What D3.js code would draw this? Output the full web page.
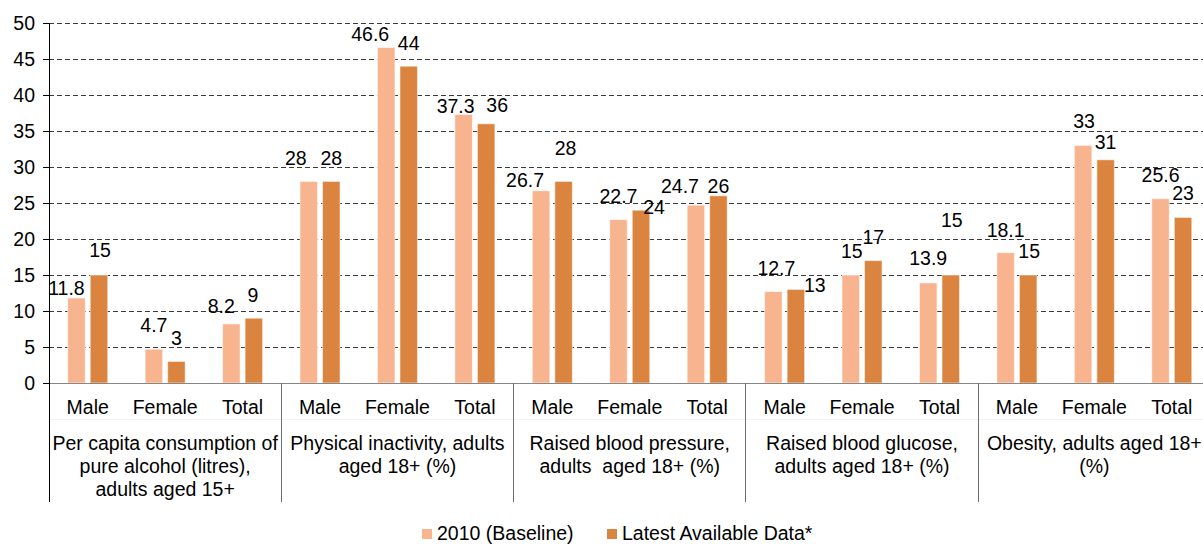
<!DOCTYPE html>
<html>
<head>
<meta charset="utf-8">
<script src="https://cdn.jsdelivr.net/npm/d3@7"></script>
<style>
  body { margin: 0; background: #fff; }
  svg { display: block; font-family: "Liberation Sans", Arial, sans-serif; }
  text { fill: #000; white-space: pre; }
</style>
</head>
<body>
<div id="chart"></div>
<script>
// ---- data ----
const sexes = ['Male', 'Female', 'Total'];
const groupLabels = [
  ['Per capita consumption of', 'pure alcohol (litres),', 'adults aged 15+'],
  ['Physical inactivity, adults', 'aged 18+ (%)'],
  ['Raised blood pressure,', 'adults  aged 18+ (%)'],
  ['Raised blood glucose,', 'adults aged 18+ (%)'],
  ['Obesity, adults aged 18+', '(%)'],
];
const seriesNames = ['2010 (Baseline)', 'Latest Available Data*'];
const baselineVals = [11.8, 4.7, 8.2, 28, 46.6, 37.3, 26.7, 22.7, 24.7, 12.7, 15, 13.9, 18.1, 33, 25.6];
const latestVals = [15, 3, 9, 28, 44, 36, 28, 24, 26, 13, 17, 15, 15, 31, 23];
const yTicks = [0, 5, 10, 15, 20, 25, 30, 35, 40, 45, 50];

// hand-placed data labels (offsets from the default spot above each bar)
const baselineNudge = [[-10, 14], [0, 0], [-10, 6], [-13, 1], [-16, 11], [-8, 16], [-16, 13], [0, 0], [-16, 5],
  [3, 0], [1, 0], [0, -1], [0, 1], [1, 0], [0, 0]];
const latestNudge = [[1, -1], [0, 1], [-1, 1], [0, 1], [0, 1], [11, 5], [2, -9], [13, 21], [0, 14],
  [19, 20], [0, 0], [1, -31], [1, 0], [0, 6], [0, 0]];

const COLORS = ['#F8B48E', '#DB843F'];
const W = 1203, H = 544;
const FS = 19.5;

const svg = d3.select('#chart').append('svg').attr('width', W).attr('height', H);

const cats = d3.range(baselineVals.length);
const x = d3.scaleBand().domain(cats).range([49, 1210.5]).padding(0);
const xs = d3.scaleBand().domain([0, 1]).range([0, x.bandwidth()])
  .paddingInner(0.222).paddingOuter(0.83);
const y = d3.scaleLinear().domain([0, 50]).range([383, 23]);

// gridlines
svg.append('g').selectAll('line').data(yTicks.filter(d => d > 0)).join('line')
  .attr('x1', 49).attr('x2', W).attr('y1', d => y(d)).attr('y2', d => y(d))
  .attr('stroke', '#3a3a3a').attr('stroke-width', 1).attr('stroke-dasharray', '5 3')
  .attr('shape-rendering', 'crispEdges');

// y axis
const yAxis = svg.append('g').attr('transform', 'translate(49,0)')
  .call(d3.axisLeft(y).tickValues(yTicks).tickSize(6).tickPadding(8));
yAxis.select('.domain').remove();
yAxis.selectAll('.tick line').attr('stroke', '#000').attr('shape-rendering', 'crispEdges');
yAxis.selectAll('.tick text').attr('font-size', FS).attr('font-family', '"Liberation Sans", Arial, sans-serif')
  .attr('fill', '#000');

// bars
const series = [baselineVals, latestVals];
series.forEach((vals, s) => {
  svg.append('g').selectAll('rect').data(vals).join('rect')
    .attr('x', (d, i) => x(i) + xs(s))
    .attr('width', xs.bandwidth())
    .attr('y', d => y(d))
    .attr('height', d => y(0) - y(d))
    .attr('fill', COLORS[s])
    .attr('stroke', 'rgba(255,255,255,0.55)').attr('stroke-width', 1);
});

// data labels
const nudges = [baselineNudge, latestNudge];
series.forEach((vals, s) => {
  svg.append('g').selectAll('text').data(vals).join('text')
    .attr('x', (d, i) => x(i) + xs(s) + xs.bandwidth() / 2 + nudges[s][i][0])
    .attr('y', (d, i) => y(d) - 17 + nudges[s][i][1])
    .attr('text-anchor', 'middle').attr('font-size', FS)
    .text(d => d);
});

// zero line + category axis frame
svg.append('line').attr('x1', 49).attr('x2', W).attr('y1', y(0)).attr('y2', y(0))
  .attr('stroke', '#868686').attr('shape-rendering', 'crispEdges');
svg.append('line').attr('x1', 49).attr('x2', W).attr('y1', 419).attr('y2', 419)
  .attr('stroke', '#f2f2f2').attr('shape-rendering', 'crispEdges');

const groupStarts = d3.range(groupLabels.length).map(g => x(g * 3));
svg.append('g').selectAll('line').data(groupStarts.slice(1)).join('line')
  .attr('x1', d => d).attr('x2', d => d).attr('y1', y(0)).attr('y2', 502)
  .attr('stroke', '#6e6e6e').attr('shape-rendering', 'crispEdges');
svg.append('line').attr('x1', 49).attr('x2', 49).attr('y1', y(50)).attr('y2', 502)
  .attr('stroke', '#000').attr('shape-rendering', 'crispEdges');

// category labels
svg.append('g').selectAll('text').data(cats).join('text')
  .attr('x', i => x(i) + x.bandwidth() / 2).attr('y', 414)
  .attr('text-anchor', 'middle').attr('font-size', FS)
  .text(i => sexes[i % 3]);

// group labels
groupLabels.forEach((lines, g) => {
  const cx = x(g * 3) + x.bandwidth() * 1.5;
  svg.append('text').attr('text-anchor', 'middle').attr('font-size', FS)
    .selectAll('tspan').data(lines).join('tspan')
    .attr('x', cx).attr('y', (d, k) => 450 + k * 23)
    .text(d => d);
});

// legend
const legendX = [422, 607];
seriesNames.forEach((name, s) => {
  const lg = svg.append('g').attr('transform', `translate(${legendX[s]},529)`);
  lg.append('rect').attr('width', 10).attr('height', 10).attr('fill', COLORS[s]);
  lg.append('text').attr('x', 15).attr('y', 11).attr('font-size', FS).text(name);
});
</script>
</body>
</html>
